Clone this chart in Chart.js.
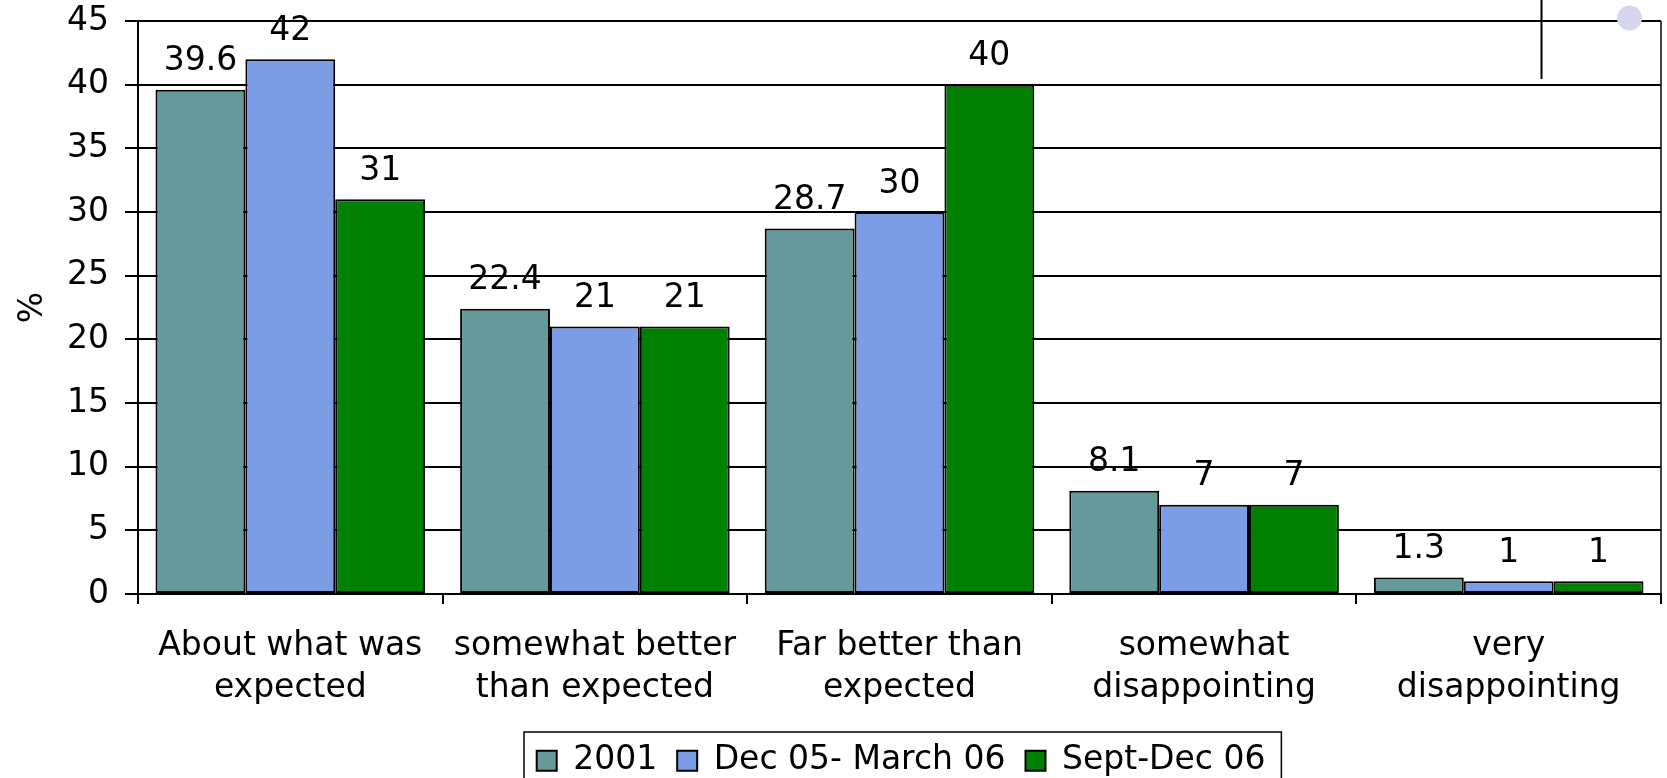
<!DOCTYPE html>
<html>
<head>
<meta charset="utf-8">
<script src="https://cdn.jsdelivr.net/npm/chart.js@4/dist/chart.umd.min.js"></script>
<style>
  html, body { margin: 0; padding: 0; background: #ffffff; }
  canvas { display: block; }
</style>
</head>
<body>
<canvas id="chart" width="1667" height="778"></canvas>
<script>
// Survey responses (%), one array per survey wave
const categories = [
  ["About what was", "expected"],
  ["somewhat better", "than expected"],
  ["Far better than", "expected"],
  ["somewhat", "disappointing"],
  ["very", "disappointing"]
];
const seriesNames = ["2001", "Dec 05- March 06", "Sept-Dec 06"];
const values2001 = [39.6, 22.4, 28.7, 8.1, 1.3];
const valuesDec05Mar06 = [42, 21, 30, 7, 1];
const valuesSeptDec06 = [31, 21, 40, 7, 1];
const yMin = 0;
const yMax = 45;
const yStep = 5;
const yTitle = "%";

const seriesColors = ["#669999", "#7d9ce6", "#008000"];
const FONT = "DejaVu Sans";
const FONT_SIZE = 33;

Chart.defaults.font.family = FONT;
Chart.defaults.font.size = FONT_SIZE;
Chart.defaults.color = "#000000";

// Value printed above each bar
const valueLabels = {
  id: "valueLabels",
  afterDatasetsDraw(chart) {
    const ctx = chart.ctx;
    ctx.save();
    ctx.font = FONT_SIZE + "px '" + FONT + "'";
    ctx.fillStyle = "#000";
    ctx.textAlign = "center";
    ctx.textBaseline = "alphabetic";
    chart.data.datasets.forEach((ds, di) => {
      chart.getDatasetMeta(di).data.forEach((bar, i) => {
        ctx.fillText(String(ds.data[i]), bar.x, bar.y - 19.5);
      });
    });
    ctx.restore();
  }
};

// Places the legend and draws its frame
const legendFrame = {
  id: "legendFrame",
  afterUpdate(chart) {
    const lg = chart.legend;
    if (!lg || !lg.legendHitBoxes || !lg.legendHitBoxes.length) return;
    const dx = 536.7 - lg.legendHitBoxes[0].left;
    const dy = 760.7 - (lg.top + 20 + FONT_SIZE / 2);
    lg.left += dx; lg.right += dx;
    lg.top += dy; lg.bottom += dy;
    lg.adjustHitBoxes();
  },
  afterDraw(chart) {
    const lg = chart.legend;
    if (!lg || !lg.legendHitBoxes || !lg.legendHitBoxes.length) return;
    const hb = lg.legendHitBoxes;
    const last = hb[hb.length - 1];
    const left = hb[0].left - 12.7;
    const right = last.left + last.width + 16;
    const ctx = chart.ctx;
    ctx.save();
    ctx.strokeStyle = "#000";
    ctx.lineWidth = 1.5;
    ctx.strokeRect(left, 732, right - left, 80);
    ctx.restore();
  }
};

// Small marks in the top-right corner of the sheet
const cornerMarks = {
  id: "cornerMarks",
  afterDraw(chart) {
    const ctx = chart.ctx;
    ctx.save();
    ctx.strokeStyle = "#000";
    ctx.lineWidth = 2;
    ctx.beginPath();
    ctx.moveTo(1541.5, 0);
    ctx.lineTo(1541.5, 79);
    ctx.stroke();
    ctx.fillStyle = "#d6d6ee";
    ctx.beginPath();
    ctx.arc(1629.5, 18, 12.5, 0, Math.PI * 2);
    ctx.fill();
    ctx.restore();
  }
};

new Chart(document.getElementById("chart"), {
  type: "bar",
  data: {
    labels: categories,
    datasets: [
      { label: seriesNames[0], data: values2001, backgroundColor: seriesColors[0] },
      { label: seriesNames[1], data: valuesDec05Mar06, backgroundColor: seriesColors[1] },
      { label: seriesNames[2], data: valuesSeptDec06, backgroundColor: seriesColors[2] }
    ]
  },
  options: {
    responsive: false,
    animation: false,
    devicePixelRatio: 1,
    layout: { padding: { top: 21, right: 6, left: 0, bottom: 0 } },
    datasets: {
      bar: {
        borderColor: "#000",
        borderWidth: 2,
        borderSkipped: false,
        categoryPercentage: 0.885,
        barPercentage: 1.0
      }
    },
    plugins: {
      tooltip: { enabled: false },
      legend: {
        position: "bottom",
        labels: {
          boxWidth: 20,
          boxHeight: 20,
          padding: 20,
          color: "#000",
          font: { size: FONT_SIZE, family: FONT },
          generateLabels(chart) {
            return chart.data.datasets.map((ds, i) => ({
              text: ds.label,
              fillStyle: ds.backgroundColor,
              strokeStyle: "#000",
              lineWidth: 2,
              hidden: false,
              datasetIndex: i
            }));
          }
        }
      }
    },
    scales: {
      x: {
        offset: true,
        afterFit(scale) {
          scale.height = 121;
          scale.paddingLeft = 0;
          scale.paddingRight = 0;
        },
        grid: {
          offset: true,
          drawOnChartArea: true,
          color: (c) => (c.type === "tick" ? "rgba(0,0,0,0)" : "#444"),
          lineWidth: 2,
          tickLength: 10,
          tickColor: "#000",
          tickWidth: 2
        },
        border: { display: true, color: "#000", width: 2 },
        ticks: {
          padding: 21,
          maxRotation: 0,
          autoSkip: false,
          color: "#000",
          font: { size: FONT_SIZE, family: FONT, lineHeight: 1.28 }
        }
      },
      y: {
        min: yMin,
        max: yMax,
        afterFit(scale) {
          scale.width = 138;
          scale.paddingTop = 0;
          scale.paddingBottom = 0;
        },
        grid: {
          color: "#000",
          lineWidth: 2,
          tickLength: 13,
          tickColor: "#000",
          tickWidth: 2
        },
        border: { display: true, color: "#000", width: 2 },
        ticks: {
          stepSize: yStep,
          padding: 16,
          color: "#000",
          font: { size: FONT_SIZE, family: FONT }
        },
        title: {
          display: true,
          text: yTitle,
          color: "#000",
          padding: { top: 14, bottom: 0 },
          font: { size: FONT_SIZE, family: FONT }
        }
      }
    }
  },
  plugins: [valueLabels, legendFrame, cornerMarks]
});
</script>
</body>
</html>
